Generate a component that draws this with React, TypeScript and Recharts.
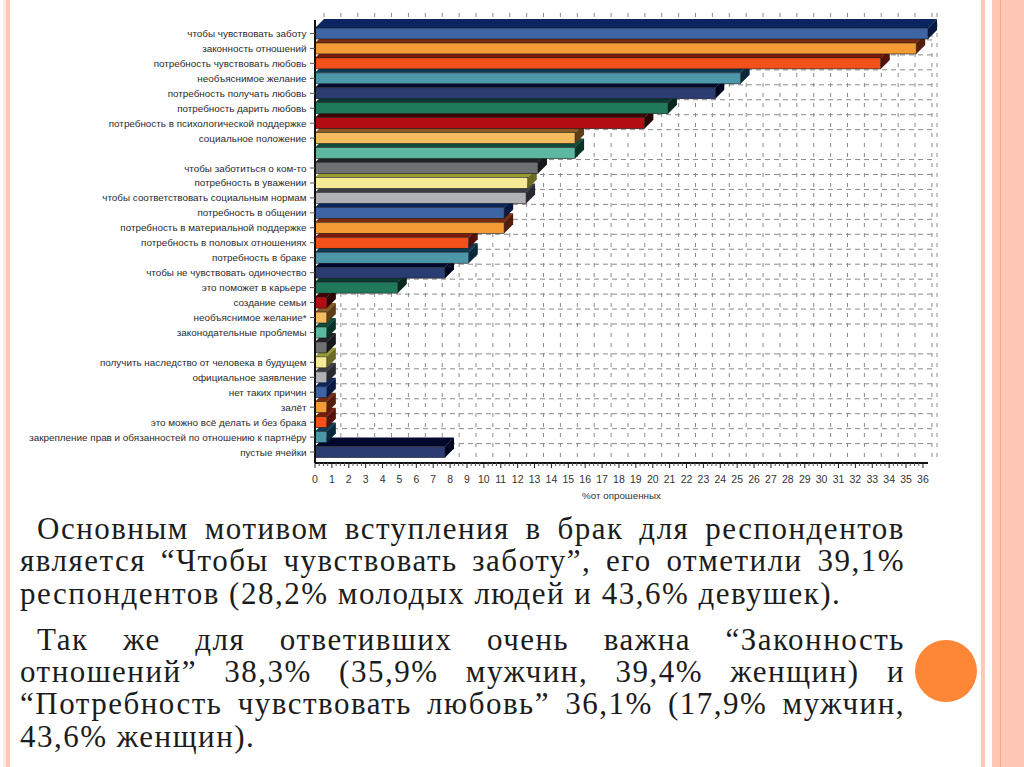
import { BarChart, Bar, XAxis, YAxis, CartesianGrid, Cell } from 'recharts';

const categories = [
  'чтобы чувствовать заботу',
  'законность отношений',
  'потребность чувствовать любовь',
  'необъяснимое желание',
  'потребность получать любовь',
  'потребность дарить любовь',
  'потребность в психологической поддержке',
  'социальное положение',
  ' ',
  'чтобы заботиться о ком-то',
  'потребность в уважении',
  'чтобы соответствовать социальным нормам',
  'потребность в общении',
  'потребность в материальной поддержке',
  'потребность в половых отношениях',
  'потребность в браке',
  'чтобы не чувствовать одиночество',
  'это поможет в карьере',
  'создание семьи',
  'необъяснимое желание*',
  'законодательные проблемы',
  '  ',
  'получить наследство от человека в будущем',
  'официальное заявление',
  'нет таких причин',
  'залёт',
  'это можно всё делать и без брака',
  'закрепление прав и обязанностей по отношению к партнёру',
  'пустые ячейки',
];

const values = [
  36.3, 35.6, 33.5, 25.2, 23.7, 20.9, 19.5, 15.4, 15.4, 13.2, 12.6, 12.5, 11.2, 11.2, 9.1, 9.1, 7.7, 4.9,
  0.7, 0.7, 0.7, 0.7, 0.7, 0.7, 0.7, 0.7, 0.7, 0.7, 7.7,
];

const frontColors = ['#3f64a6', '#f49b35', '#f4501a', '#4d97ab', '#2a3c72', '#1f7a5c', '#b30d12', '#f6bb5e', '#5cb8a0', '#6f7072', '#f5ea96', '#b1b2b5'];
const shadeColors = ['#0a2560', '#7a2a10', '#7a1a0c', '#0d3a52', '#00082e', '#0a3a30', '#3f0505', '#8a5a22', '#0f4a3a', '#222326', '#9a9a35', '#3a3d45'];

const xTicks = Array.from({ length: 37 }, (_, i) => i);
const gridSkip = [7, 20];

const paragraphLines = [
  { text: 'Основным мотивом вступления в брак для респондентов', left: 37, top: 513, justify: true },
  { text: 'является “Чтобы чувствовать заботу”, его отметили 39,1%', left: 20, top: 545, justify: true },
  { text: 'респондентов (28,2% молодых людей и 43,6% девушек).', left: 20, top: 578, justify: false },
  { text: 'Так же для ответивших очень важна “Законность', left: 37, top: 624, justify: true },
  { text: 'отношений” 38,3% (35,9% мужчин, 39,4% женщин) и', left: 20, top: 656, justify: true },
  { text: '“Потребность чувствовать любовь” 36,1% (17,9% мужчин,', left: 20, top: 688, justify: true },
  { text: '43,6% женщин).', left: 20, top: 721, justify: false },
];

const data = categories.map((name, i) => ({ name, value: values[i], idx: i })).reverse();

const DEPTH = 9;
const PLOT_TOP = 26;
const ROW = 14.95;
const gridRows = categories.map((_, i) => i).slice(0, 28).filter((i) => !gridSkip.includes(i));
const horizontalPoints = gridRows.map((i) => PLOT_TOP + (i + 1) * ROW - 1);

// front face plus top and side faces, the depth is fixed like in the old Excel chart
function Bar3D(props: any) {
  const { x, y, width, height, fill, payload } = props;
  const shade = shadeColors[payload.idx % 12];
  const side = `${x + width},${y} ${x + width + DEPTH},${y - DEPTH} ${x + width + DEPTH},${y + height - DEPTH} ${x + width},${y + height}`;
  return (
    <g>
      <polygon points={`${x},${y} ${x + DEPTH},${y - DEPTH} ${x + width + DEPTH},${y - DEPTH} ${x + width},${y}`} fill={shade} />
      <polygon points={side} fill={shade} />
      <polygon points={side} fill="#000" fillOpacity={0.3} />
      <rect x={x} y={y} width={width} height={height} fill={fill} stroke="#1a1a1a" strokeWidth={0.6} />
    </g>
  );
}

function XTick(props: any) {
  const { x, y, payload } = props;
  const step = 16.9;
  const minors = [0.25, 0.5, 0.75];
  return (
    <g>
      <line x1={x} x2={x} y1={y - 8} y2={y - 3} stroke="#222" />
      {payload.value < 36 &&
        minors.map((m) => <line key={m} x1={x + m * step} x2={x + m * step} y1={y - 8} y2={y - 5} stroke="#555" />)}
      <text x={x} y={y + 12} textAnchor="middle" fontSize={10.5} fill="#333" fontFamily="Liberation Sans">
        {payload.value}
      </text>
    </g>
  );
}

function YTick(props: any) {
  const { x, y, payload } = props;
  if (!payload.value.trim()) return <g />;
  return (
    <g>
      <line x1={x + 5} x2={x + 10} y1={y} y2={y} stroke="#555" />
      <text x={x + 1.5} y={y + 3.5} textAnchor="end" fontSize={9.9} fill="#2a2a2a" fontFamily="Liberation Sans">
        {payload.value}
      </text>
    </g>
  );
}

const gridStroke = { stroke: '#8a8a8a', strokeWidth: 1 };

function VLine(props: any) {
  return <line x1={props.x1 + DEPTH} x2={props.x2 + DEPTH} y1={13} y2={props.y2 - 6} strokeDasharray="4 6" {...gridStroke} />;
}

function HLine(props: any) {
  return <line x1={props.x1 + DEPTH} x2={props.x2 + 7} y1={props.y1} y2={props.y2} strokeDasharray="5 4" {...gridStroke} />;
}

export default function App() {
  return (
    <div style={{ position: 'absolute', left: 0, top: 0, width: 1024, height: 767, background: '#fff', overflow: 'hidden' }}>
      <div style={{ position: 'absolute', left: 3, top: 0, width: 3, height: 767, background: '#fdeae3' }} />
      <div style={{ position: 'absolute', left: 6, top: 0, width: 4, height: 767, background: '#fdc9b6' }} />
      <div style={{ position: 'absolute', left: 981, top: 0, width: 4, height: 767, background: '#fcc9b6' }} />
      <div style={{ position: 'absolute', left: 992, top: 0, width: 32, height: 767, background: '#fdc9b6' }} />
      <div style={{ position: 'absolute', left: 1000, top: 0, width: 1, height: 767, background: '#f9a57f' }} />
      <div style={{ position: 'absolute', left: 915, top: 640, width: 62, height: 62, borderRadius: '50%', background: '#fd8637' }} />

      <BarChart
        width={1024}
        height={510}
        data={data}
        layout="vertical"
        barSize={11}
        margin={{ top: 20, right: 96, bottom: 0, left: 0 }}
        style={{ position: 'absolute', left: 0, top: 0 }}
      >
        <CartesianGrid horizontalPoints={horizontalPoints} vertical={VLine} horizontal={HLine} />
        <XAxis
          type="number"
          domain={[0, 36.3]}
          ticks={xTicks}
          interval={0}
          height={47}
          tick={XTick}
          tickLine={false}
          axisLine={{ stroke: '#111', strokeWidth: 2 }}
          label={{ value: '%от опрошенных', position: 'insideBottom', offset: 11, fontSize: 9.8, fill: '#333', fontFamily: 'Liberation Sans' }}
        />
        <YAxis
          type="category"
          dataKey="name"
          reversed
          width={315}
          interval={0}
          padding={{ top: 6, bottom: 3.5 }}
          tick={YTick}
          tickSize={8}
          tickLine={false}
          axisLine={{ stroke: '#111', strokeWidth: 2 }}
        />
        <Bar dataKey="value" isAnimationActive={false} shape={Bar3D}>
          {data.map((d) => (
            <Cell key={d.idx} fill={frontColors[d.idx % 12]} />
          ))}
        </Bar>
      </BarChart>

      {paragraphLines.map((l) => (
        <div
          key={l.top}
          style={{
            position: 'absolute',
            left: l.left,
            top: l.top,
            width: 905 - l.left,
            fontFamily: 'Liberation Serif',
            fontSize: 31,
            letterSpacing: 1.5,
            lineHeight: '32px',
            color: '#1c1c1c',
            whiteSpace: 'nowrap',
            textAlign: l.justify ? 'justify' : 'left',
            textAlignLast: l.justify ? 'justify' : 'left',
          }}
        >
          {l.text}
        </div>
      ))}
    </div>
  );
}
